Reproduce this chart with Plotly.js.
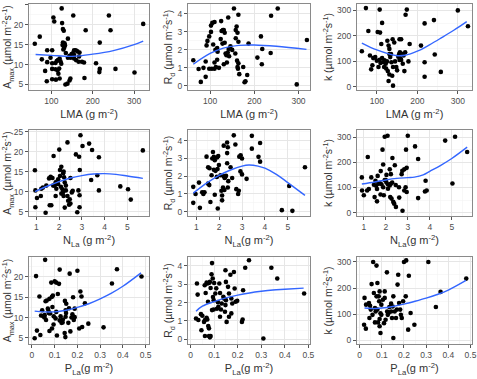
<!DOCTYPE html>
<html><head><meta charset="utf-8">
<script src="https://cdn.plot.ly/plotly-3.0.1.min.js"></script>
<style>html,body{margin:0;padding:0;background:#fff}#c{width:477px;height:379px}</style>
</head><body><div id="c"></div>
<script>
// Panel 1: Amax vs LMA
const amaxLMA = [[60,15.2],[72,17],[77,11.3],[85,8.4],[89,5.8],[90,10.6],[90,13.6],[102,13.6],[98,11.7],[105,21.8],[107,20.8],[102,6.3],[102,8.9],[102,10.3],[125,24.1],[126,20.4],[128,18.9],[130,18.5],[153,22.3],[183,18.6],[239,22.3],[243,18.6],[322,20.2],[140,16.5],[128,15.5],[132,15.3],[127,14.9],[133,14.8],[131,14.2],[129,13.8],[155,13.6],[159,13.6],[163,13.3],[152,12.8],[155,12.4],[168,13],[167,12],[217,15.5],[208,10.3],[217,8.9],[216,8.1],[255,8.9],[301,8],[180,6.6],[146,6.5],[134,5],[139,5.2],[144,6],[117,7.7],[111,6.2],[120,6.5],[110,8.8],[115,8.5],[119,9],[124,10.2],[122,10.8],[120,11.5],[116,11.1],[113,10.9],[110,10.4],[140,11.7],[147,11.7],[155,11.5],[160,11.1],[166,10.7],[174,10.7],[179,10.5],[135,12.9],[144,12.2],[149,12.6]];
const amaxLMA_fitx = [62,100,150,200,250,300,322];
const amaxLMA_fity = [12.5,12.3,12.05,12.6,13.5,15.0,15.9];
// Panel 2: Rd vs LMA
const rdLMA = [[62,1.42],[74,0.94],[79,0.22],[85,1.0],[90,1.35],[90,0.5],[92,2.25],[94,2.5],[98,2.75],[102,3.35],[105,3.5],[110,3.55],[102,3.0],[107,2.3],[98,0.95],[104,0.95],[110,0.95],[113,1.05],[110,1.3],[116,1.45],[117,1.9],[116,2.1],[124,2.6],[128,2.35],[126,3.05],[125,3.6],[129,3.1],[131,3.1],[133,2.95],[141,3.8],[131,1.2],[138,1.3],[133,2.4],[135,1.8],[137,1.7],[140,1.85],[143,1.65],[142,2.05],[154,4.3],[160,3.3],[158,3.1],[162,2.95],[164,3.95],[158,2.65],[164,2.45],[157,1.8],[161,1.4],[164,1.25],[162,1.05],[163,0.95],[166,0.65],[175,1.05],[178,0.2],[180,0.25],[184,0.6],[187,2.35],[207,1.57],[215,2.75],[218,2.05],[217,1.2],[237,1.83],[238,3.9],[253,4.3],[296,0.08],[319,2.55],[150,2.0],[146,2.2],[120,1.0],[112,2.0]];
const rdLMA_fitx = [62,100,130,165,200,250,318];
const rdLMA_fity = [1.2,1.8,2.1,2.25,2.27,2.2,2.03];
// Panel 3: k vs LMA
const kLMA = [[63,140],[73,309],[79,219],[83,123],[86,69],[89,85],[91,113],[96,117],[102,215],[108,213],[107,303],[113,251],[111,168],[107,106],[109,94],[113,113],[117,97],[119,104],[122,91],[118,78],[123,72],[104,78],[127,62],[131,49],[129,23],[138,44],[140,5],[126,181],[129,162],[131,149],[131,129],[135,129],[139,187],[143,174],[133,117],[136,97],[140,78],[148,78],[150,65],[156,106],[160,106],[157,136],[160,187],[156,187],[153,118],[155,128],[158,112],[162,130],[164,91],[168,62],[171,283],[174,303],[170,136],[166,123],[181,168],[178,100],[209,162],[218,249],[218,97],[218,40],[241,262],[243,127],[258,59],[300,300],[325,238],[145,100],[125,100],[100,103]];
const kLMA_fitx = [63,100,147,170,200,230,260,290,322];
const kLMA_fity = [172,145,123,124,140,165,193,222,256];
// Panel 4: Amax vs N
const amaxN = [[0.94,15.35],[0.96,10.3],[0.96,6.1],[1.03,8.4],[1.2,8.9],[1.22,10.7],[1.29,11],[1.41,4.7],[1.44,11.5],[1.56,13.3],[1.59,6.6],[1.66,6.6],[1.63,13.7],[1.71,13.4],[1.74,11.5],[1.81,11.5],[1.85,12.3],[1.76,18.9],[1.88,10.7],[1.85,8.9],[1.96,13.1],[2.04,13.9],[2.01,20.5],[1.96,11.9],[2.04,15.4],[2.1,16.2],[2.1,9.5],[2.15,10.6],[2.2,8.9],[2.17,9.8],[2.18,14.6],[2.2,15.0],[2.22,13.6],[2.25,12.3],[2.25,6],[2.3,11.5],[2.37,8.9],[2.4,7.7],[2.47,8.1],[2.56,9.8],[2.37,22.3],[2.44,6.7],[2.5,7],[2.5,13.4],[2.74,19.3],[2.88,18.7],[2.8,4.85],[2.9,6.1],[2.85,10.3],[2.9,9.1],[2.91,15.4],[2.94,24.1],[3.03,21.4],[3.32,22],[3.45,20.4],[3.41,12.9],[3.68,14.1],[3.75,18.6],[3.75,10.3],[4.69,11.3],[5.03,10.6],[5.15,8],[5.68,20.3],[2.08,11.2],[2.6,10.2],[1.9,12.0],[2.3,10.3]];
const amaxN_fitx = [0.94,1.5,2,2.5,3,3.5,4,4.5,5,5.68];
const amaxN_fity = [10.0,11.4,12.5,13.4,14.0,14.4,14.5,14.3,13.9,13.3];
// Panel 5: Rd vs N
const rdN = [[0.87,1.4],[0.87,0.5],[0.97,1.0],[1.12,1.64],[1.16,0.22],[1.26,1.1],[1.36,1.1],[1.31,1.0],[1.45,3.1],[1.52,2.5],[1.58,2.45],[1.52,1.58],[1.57,1.5],[1.62,0.55],[1.67,2.05],[1.7,3.0],[1.73,3.36],[1.77,3.09],[1.81,2.9],[1.77,2.36],[1.84,2.3],[1.93,2.4],[1.81,0.96],[1.9,1.96],[1.91,3.05],[1.96,3.13],[1.94,0.18],[1.99,2.63],[2.06,2.05],[2.1,1.18],[2.13,0.91],[2.13,0.64],[2.17,1.36],[2.23,1.22],[2.2,2.0],[2.24,1.9],[2.27,1.95],[2.3,2.02],[2.2,3.72],[2.35,3.9],[2.38,3.63],[2.35,3.3],[2.35,2.73],[2.38,1.36],[2.4,1.72],[2.5,2.5],[2.64,4.3],[2.57,1.9],[2.71,3.78],[2.75,1.27],[2.83,1.0],[2.86,1.18],[2.88,3.1],[2.94,3.18],[3.0,3.0],[2.93,2.27],[3.0,2.1],[3.2,1.85],[3.43,4.27],[3.43,3.55],[3.72,3.09],[3.79,3.87],[3.79,2.82],[4.74,0.09],[5.06,1.45],[5.2,0.05],[5.75,2.5]];
const rdN_fitx = [0.87,1.5,2,2.5,3,3.3,3.7,4,4.5,5,5.75];
const rdN_fity = [1.05,1.65,2.05,2.35,2.57,2.63,2.57,2.45,2.1,1.64,0.92];
// Panel 6: k vs N
const kN = [[0.91,140],[0.92,88],[1.0,69],[1.18,221],[1.15,88],[1.23,94],[1.34,140],[1.46,111],[1.49,62],[1.53,127],[1.56,107],[1.6,45],[1.6,94],[1.63,146],[1.66,115],[1.72,118],[1.8,113],[1.77,165],[1.76,72],[1.85,250],[1.88,191],[1.88,101],[1.91,69],[1.95,301],[2.08,305],[2.0,130],[2.03,150],[2.03,120],[2.1,112],[2.1,95],[2.18,108],[2.23,115],[2.29,120],[2.18,172],[2.23,153],[2.2,62],[2.26,56],[2.3,217],[2.34,43],[2.38,36],[2.41,188],[2.46,23],[2.6,101],[2.61,60],[2.72,153],[2.75,166],[2.84,172],[2.76,8],[2.84,88],[2.9,101],[2.95,82],[2.92,250],[3.0,305],[2.95,178],[3.33,263],[3.47,213],[3.47,58],[3.78,84],[3.81,127],[3.86,88],[4.7,286],[5.03,116],[5.15,301],[5.7,241],[1.95,130],[2.45,110]];
const kN_fitx = [0.91,1.5,2,2.5,3,3.3,3.7,4,4.5,5,5.7];
const kN_fity = [114,122,130,136,139,141,150,164,188,215,260];
// Panel 7: Amax vs P
const amaxP = [[0.012,4.9],[0.018,20.2],[0.022,6.8],[0.033,15.2],[0.037,5.7],[0.04,10.5],[0.045,11.8],[0.05,10.3],[0.055,10.0],[0.056,10.6],[0.058,24.2],[0.06,14.0],[0.065,14.2],[0.062,9.4],[0.07,12.2],[0.073,11.6],[0.074,11.1],[0.077,6.7],[0.077,14.6],[0.085,18.6],[0.088,15.1],[0.092,15.4],[0.088,7.3],[0.095,8.3],[0.096,10.3],[0.1,18.9],[0.107,18.6],[0.104,9.8],[0.107,11.4],[0.11,5.6],[0.114,15.8],[0.119,18.3],[0.122,21.8],[0.122,9.3],[0.126,10.3],[0.13,8.7],[0.136,9.5],[0.144,6.2],[0.145,14.1],[0.151,13.4],[0.147,5.2],[0.148,11.8],[0.15,11.1],[0.148,10.2],[0.16,8.7],[0.163,12.3],[0.166,20.8],[0.169,6.6],[0.174,10.0],[0.178,10.8],[0.181,15.0],[0.188,10.1],[0.184,9.4],[0.188,12.2],[0.2,21.5],[0.208,7.3],[0.213,16.4],[0.218,15.2],[0.221,7.7],[0.233,13.5],[0.248,8.5],[0.315,7.6],[0.352,18.4],[0.374,21.9],[0.482,20.1],[0.08,11.0],[0.09,12.6],[0.135,8.8]];
const amaxP_fitx = [0.012,0.05,0.1,0.15,0.2,0.25,0.3,0.35,0.4,0.48];
const amaxP_fity = [11.6,11.4,11.4,11.8,12.5,13.4,14.6,16.0,17.7,21.0];
// Panel 8: Rd vs P
const rdP = [[0.023,1.13],[0.027,3.03],[0.03,2.43],[0.033,1.05],[0.044,1.37],[0.05,1.28],[0.046,0.5],[0.057,0.95],[0.061,1.05],[0.06,2.94],[0.068,3.08],[0.071,3.03],[0.061,0.18],[0.064,2.52],[0.068,1.17],[0.071,1.08],[0.074,2.04],[0.075,0.72],[0.078,0.6],[0.078,0.18],[0.082,0.11],[0.085,0.18],[0.078,3.06],[0.082,3.12],[0.085,2.79],[0.091,4.14],[0.089,3.53],[0.094,3.3],[0.095,2.3],[0.091,1.59],[0.098,1.62],[0.098,2.13],[0.1,3.06],[0.105,2.49],[0.109,2.77],[0.112,1.66],[0.116,2.02],[0.118,1.77],[0.122,3.03],[0.125,2.52],[0.125,1.23],[0.129,1.62],[0.132,1.95],[0.139,2.31],[0.142,2.22],[0.146,1.5],[0.148,1.86],[0.15,2.13],[0.148,3.75],[0.15,3.12],[0.153,0.95],[0.159,2.85],[0.163,2.49],[0.163,1.23],[0.169,3.51],[0.173,1.41],[0.177,1.95],[0.173,2.22],[0.184,3.66],[0.187,2.76],[0.191,2.04],[0.198,2.09],[0.221,1.08],[0.218,0.95],[0.223,2.67],[0.232,3.89],[0.248,4.29],[0.309,0.05],[0.343,3.89],[0.368,3.3],[0.482,2.49]];
const rdP_fitx = [0.023,0.05,0.1,0.15,0.2,0.25,0.3,0.35,0.4,0.48];
const rdP_fity = [1.53,1.8,2.05,2.25,2.4,2.52,2.61,2.68,2.72,2.78];
// Panel 9: k vs P
const kP = [[0.022,162],[0.02,59],[0.028,44],[0.029,136],[0.042,142],[0.047,132],[0.044,85],[0.05,117],[0.054,215],[0.058,97],[0.061,300],[0.064,181],[0.069,123],[0.069,68],[0.072,110],[0.076,286],[0.076,168],[0.08,117],[0.08,219],[0.083,68],[0.086,168],[0.09,187],[0.088,149],[0.09,81],[0.09,53],[0.094,27],[0.094,103],[0.098,97],[0.098,136],[0.105,155],[0.113,162],[0.11,65],[0.117,78],[0.113,187],[0.123,260],[0.124,110],[0.127,97],[0.132,106],[0.134,127],[0.142,110],[0.142,140],[0.149,129],[0.146,85],[0.152,8],[0.152,168],[0.158,110],[0.164,85],[0.168,117],[0.171,213],[0.174,251],[0.178,142],[0.183,117],[0.186,97],[0.19,85],[0.196,149],[0.2,300],[0.21,306],[0.208,168],[0.219,40],[0.222,247],[0.23,104],[0.247,59],[0.31,300],[0.344,127],[0.365,185],[0.481,236]];
const kP_fitx = [0.022,0.05,0.1,0.15,0.2,0.25,0.3,0.35,0.4,0.48];
const kP_fity = [123,121,123,129,138,149,161,175,192,229];

const unitY = ' (µmol m<sup>-2</sup>s<sup>-1</sup>)';
const yTitles = ['A<sub>max</sub>' + unitY, 'R<sub>d</sub>' + unitY, 'k' + unitY];
const xTitles = ['LMA (g m<sup>-2</sup>)', 'N<sub>La</sub> (g m<sup>-2</sup>)', 'N<sub>La</sub>(g m<sup>-2</sup>)', 'P<sub>La</sub>(g m<sup>-2</sup>)'];

const W = 477, H = 379;
const colPx = [[29,149],[188,310],[357,472]];
const rowPx = [[4,90],[130,216],[257,344]];

const panels = [
  {d: amaxLMA, fx: amaxLMA_fitx, fy: amaxLMA_fity, xr:[46,336], yr:[3.6,25.2], xd:100, xm:50, yd:5, ym:2.5, xt:xTitles[0], yt:yTitles[0]},
  {d: rdLMA, fx: rdLMA_fitx, fy: rdLMA_fity, xr:[50,326], yr:[-0.23,4.55], xd:100, xm:50, yd:1, ym:0.5, xt:xTitles[0], yt:yTitles[1]},
  {d: kLMA, fx: kLMA_fitx, fy: kLMA_fity, xr:[51,335], yr:[-12,325], xd:100, xm:50, yd:100, ym:50, xt:xTitles[0], yt:yTitles[2]},
  {d: amaxN, fx: amaxN_fitx, fy: amaxN_fity, xr:[0.68,5.95], yr:[3.9,25.4], xd:1, xm:0.5, yd:5, ym:2.5, xt:xTitles[1], yt:yTitles[0]},
  {d: rdN, fx: rdN_fitx, fy: rdN_fity, xr:[0.64,5.97], yr:[-0.24,4.6], xd:1, xm:0.5, yd:1, ym:0.5, xt:xTitles[2], yt:yTitles[1]},
  {d: kN, fx: kN_fitx, fy: kN_fity, xr:[0.69,5.92], yr:[-13,328], xd:1, xm:0.5, yd:100, ym:50, xt:xTitles[2], yt:yTitles[2]},
  {d: amaxP, fx: amaxP_fitx, fy: amaxP_fity, xr:[-0.013,0.515], yr:[3.5,24.9], xd:0.1, xm:0.05, yd:5, ym:2.5, xt:xTitles[3], yt:yTitles[0]},
  {d: rdP, fx: rdP_fitx, fy: rdP_fity, xr:[-0.011,0.507], yr:[-0.25,4.47], xd:0.1, xm:0.05, yd:1, ym:0.5, xt:xTitles[3], yt:yTitles[1]},
  {d: kP, fx: kP_fitx, fy: kP_fity, xr:[-0.012,0.507], yr:[-15,319], xd:0.1, xm:0.05, yd:100, ym:50, xt:xTitles[3], yt:yTitles[2]}
];

const data = [];
const layout = {
  width: W, height: H, margin: {l:0, r:0, t:0, b:0},
  paper_bgcolor: '#fff', plot_bgcolor: '#fff', showlegend: false,
  font: {family: 'Liberation Sans, Arial, sans-serif', color: '#333'}
};
panels.forEach((p, i) => {
  const r = Math.floor(i / 3), c = i % 3;
  const n = i + 1;
  const xa = 'x' + (n === 1 ? '' : n), ya = 'y' + (n === 1 ? '' : n);
  data.push({type:'scatter', mode:'markers', x: p.d.map(v => v[0]), y: p.d.map(v => v[1]), xaxis: xa, yaxis: ya,
    marker: {color:'#000', size:4.6}, cliponaxis: false});
  data.push({type:'scatter', mode:'lines', x: p.fx, y: p.fy, xaxis: xa, yaxis: ya,
    line: {color:'#3366FF', width:1.4, shape:'spline', smoothing:1}});
  const common = {showline:true, mirror:true, linecolor:'#8a8a8a', linewidth:1, zeroline:false,
    showgrid:true, gridcolor:'#e6e6e6', gridwidth:1, ticks:'outside', ticklen:3, tickcolor:'#555', tickwidth:1,
    tickfont:{size:8.5, color:'#4D4D4D'}, automargin:false, fixedrange:true};
  layout['xaxis' + (n === 1 ? '' : n)] = Object.assign({}, common, {
    domain: [colPx[c][0] / W, colPx[c][1] / W], anchor: ya, range: p.xr, dtick: p.xd, tick0: 0,
    minor: {dtick: p.xm, tick0: 0, showgrid: true, gridcolor: '#f3f3f3', gridwidth: 0.6, ticks: ''},
    title: {text: p.xt, font: {size: 11, color: '#333'}, standoff: 5}
  });
  layout['yaxis' + (n === 1 ? '' : n)] = Object.assign({}, common, {
    domain: [1 - rowPx[r][1] / H, 1 - rowPx[r][0] / H], anchor: xa, range: p.yr, dtick: p.yd, tick0: 0,
    minor: {dtick: p.ym, tick0: 0, showgrid: true, gridcolor: '#f3f3f3', gridwidth: 0.6, ticks: ''},
    title: {text: p.yt, font: {size: 10.5, color: '#333'}, standoff: 2}
  });
});
Plotly.newPlot('c', data, layout, {displayModeBar: false, staticPlot: true});
</script>
</body></html>
